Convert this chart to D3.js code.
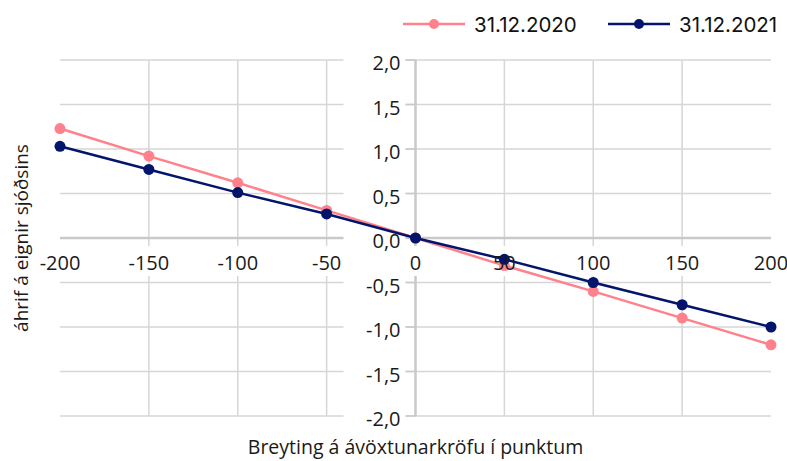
<!DOCTYPE html>
<html>
<head>
<meta charset="utf-8">
<script src="https://cdn.jsdelivr.net/npm/d3@7"></script>
<style>
  html, body { margin: 0; padding: 0; background: #fff; }
  svg { display: block; }
</style>
</head>
<body>
<svg id="chart" width="787" height="461"></svg>
<script>
// ---- data ----
const xValues = [-200, -150, -100, -50, 0, 50, 100, 150, 200];
const series2020 = [1.23, 0.92, 0.62, 0.31, 0, -0.31, -0.60, -0.90, -1.20];
const series2021 = [1.03, 0.77, 0.51, 0.27, 0, -0.24, -0.50, -0.75, -1.00];
const seriesNames = ["31.12.2020", "31.12.2021"];
const xTicks = [-200, -150, -100, -50, 0, 50, 100, 150, 200];
const yTicks = [2.0, 1.5, 1.0, 0.5, 0.0, -0.5, -1.0, -1.5, -2.0];
const xTitle = "Breyting á ávöxtunarkröfu í punktum";
const yTitle = "áhrif á eignir sjóðsins";

// ---- layout ----
const colors = ["#ff818b", "#03156b"];
const svg = d3.select("#chart");
const x = d3.scaleLinear().domain([-200, 200]).range([60, 771]);
const y = d3.scaleLinear().domain([-2, 2]).range([416, 60]);
const fmt = v => d3.format(".1f")(v).replace(".", ",").replace("−", "-");
const tickFont = "'Open Sans', sans-serif";

// gridlines
const grid = svg.append("g");
grid.selectAll("line.h").data(yTicks).join("line")
  .attr("x1", x(-200)).attr("x2", x(200))
  .attr("y1", d => y(d)).attr("y2", d => y(d))
  .attr("stroke", "#d6d6d6").attr("stroke-width", 1.5);
grid.selectAll("line.v").data(xTicks.filter(d => d !== 0 && d !== -200 && d !== 200)).join("line")
  .attr("x1", d => x(d)).attr("x2", d => x(d))
  .attr("y1", y(2)).attr("y2", y(-2))
  .attr("stroke", "#d6d6d6").attr("stroke-width", 1.5);

// axis lines (through zero)
const axes = svg.append("g");
axes.append("line").attr("x1", x(-200)).attr("x2", x(200))
  .attr("y1", y(0)).attr("y2", y(0))
  .attr("stroke", "#c9c9c9").attr("stroke-width", 2.5);
axes.append("line").attr("x1", x(0)).attr("x2", x(0))
  .attr("y1", y(2)).attr("y2", y(-2))
  .attr("stroke", "#c9c9c9").attr("stroke-width", 2.5);

// label background boxes
const boxes = svg.append("g");
boxes.selectAll("rect.y").data(yTicks).join("rect")
  .attr("x", x(0) - 72).attr("width", 62)
  .attr("y", d => y(d) - 10).attr("height", 24)
  .attr("fill", "#fff");
boxes.selectAll("rect.x").data(xTicks).join("rect")
  .attr("x", d => x(d) - 24).attr("width", 48)
  .attr("y", y(0) + 8).attr("height", 30)
  .attr("fill", "#fff");

// y tick marks
const ticks = svg.append("g");
ticks.selectAll("line.yt").data(yTicks).join("line")
  .attr("x1", x(0) - 10).attr("x2", x(0))
  .attr("y1", d => y(d)).attr("y2", d => y(d))
  .attr("stroke", "#c9c9c9").attr("stroke-width", 1.5);

// series
const allSeries = [series2020, series2021];
const line = d3.line().x((d, i) => x(xValues[i])).y(d => y(d));
allSeries.forEach((s, k) => {
  const g = svg.append("g");
  g.append("path").datum(s).attr("d", line)
    .attr("fill", "none").attr("stroke", colors[k]).attr("stroke-width", 2.5);
  g.selectAll("circle").data(s).join("circle")
    .attr("cx", (d, i) => x(xValues[i])).attr("cy", d => y(d))
    .attr("r", 5.5).attr("fill", colors[k]);
});

// tick labels (on top of series)
const labels = svg.append("g").attr("font-family", tickFont).attr("font-size", 20).attr("fill", "#1a1a1a");
labels.selectAll("text.y").data(yTicks).join("text")
  .attr("x", x(0) - 15).attr("y", d => y(d) + 10)
  .attr("text-anchor", "end")
  .text(d => fmt(d));
labels.selectAll("text.x").data(xTicks).join("text")
  .attr("x", d => x(d)).attr("y", y(0) + 32)
  .attr("text-anchor", "middle")
  .text(d => String(d));

// axis titles
svg.append("text")
  .attr("x", x(0)).attr("y", 454)
  .attr("text-anchor", "middle")
  .attr("font-family", tickFont).attr("font-size", 19.5).attr("fill", "#1a1a1a")
  .text(xTitle);
svg.append("text")
  .attr("transform", `translate(28,${y(0)}) rotate(-90)`)
  .attr("text-anchor", "middle")
  .attr("font-family", tickFont).attr("font-size", 19).attr("fill", "#1a1a1a")
  .text(yTitle);

// legend
const legendX = [403, 608];
const legend = svg.append("g");
seriesNames.forEach((name, k) => {
  const g = legend.append("g").attr("transform", `translate(${legendX[k]},24)`);
  g.append("line").attr("x1", 0).attr("x2", 62).attr("y1", 0).attr("y2", 0)
    .attr("stroke", colors[k]).attr("stroke-width", 2.5);
  g.append("circle").attr("cx", 31).attr("cy", 0).attr("r", 5).attr("fill", colors[k]);
  g.append("text").attr("x", 71).attr("y", 7.5)
    .attr("font-family", "Inter, sans-serif").attr("font-size", 20.5).attr("fill", "#111")
    .text(name);
});
</script>
</body>
</html>
